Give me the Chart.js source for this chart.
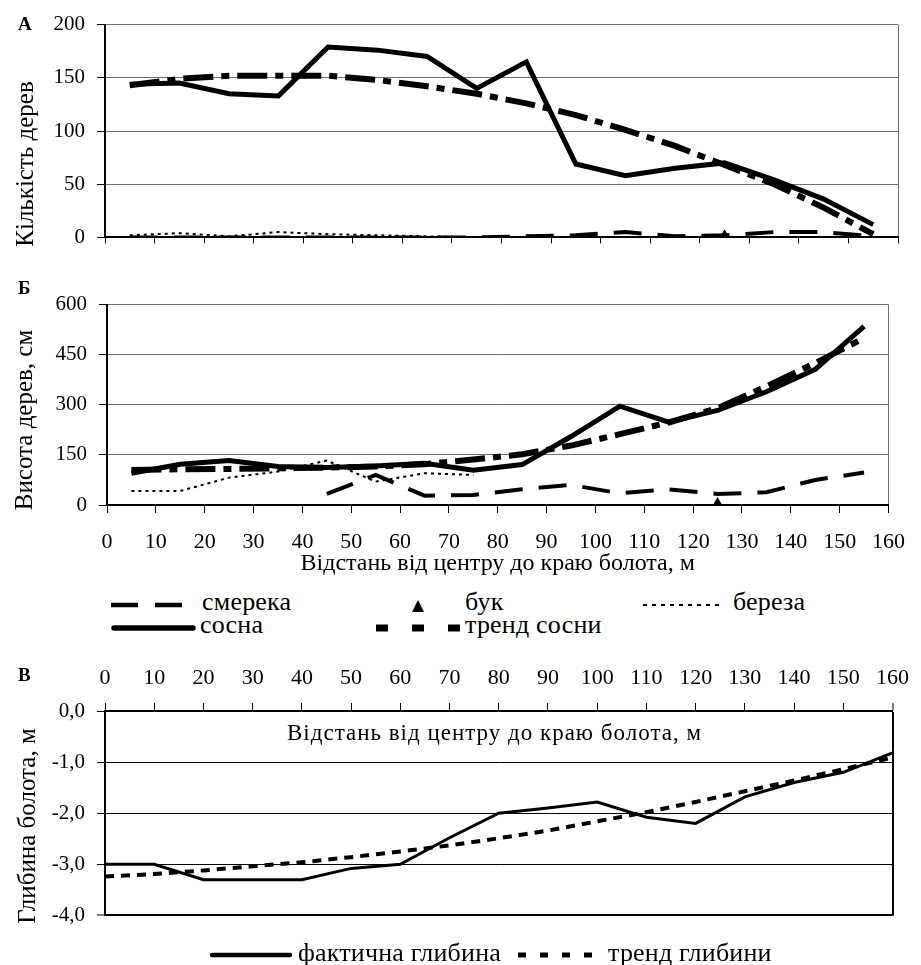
<!DOCTYPE html>
<html><head><meta charset="utf-8">
<script src="https://cdn.jsdelivr.net/npm/chart.js@4.4.1/dist/chart.umd.min.js"></script>
<style>
body{margin:0;background:#fff;width:921px;height:965px;position:relative;overflow:hidden;font-family:"Liberation Serif","Times New Roman",serif;color:#000}
canvas{position:absolute;left:0}
.t{position:absolute;white-space:nowrap;line-height:1}
.lbl{font-weight:bold;font-size:19px}
.ytitle{font-size:25px;transform:translate(-50%,-50%) rotate(-90deg)}
.lg{font-size:26px;letter-spacing:0.2px}
svg{position:absolute;overflow:visible}
</style></head><body>
<canvas id="cA" width="921" height="262" style="top:0"></canvas>
<canvas id="cB" width="921" height="300" style="top:280px"></canvas>
<canvas id="cC" width="921" height="300" style="top:640px"></canvas>

<div class="t lbl" style="left:18px;top:14px">А</div>
<div class="t lbl" style="left:18px;top:278px">Б</div>
<div class="t lbl" style="left:18px;top:665px">В</div>

<div class="t ytitle" style="left:24px;top:164px">Кількість дерев</div>
<div class="t ytitle" style="left:23px;top:420px">Висота дерев, см</div>
<div class="t ytitle" style="left:26px;top:826px">Глибина болота, м</div>

<!-- legend for panels А and Б -->
<svg style="left:111px;top:600px" width="72" height="10"><line x1="0" y1="5" x2="72" y2="5" stroke="#000" stroke-width="4.5" stroke-dasharray="27 17"/></svg>
<div class="t lg" style="left:202px;top:589px">смерека</div>
<svg style="left:412px;top:600px" width="12" height="12"><polygon points="6,0 12,12 0,12" fill="#000"/></svg>
<div class="t lg" style="left:465px;top:589px">бук</div>
<svg style="left:643px;top:600px" width="78" height="10"><line x1="0" y1="5" x2="78" y2="5" stroke="#000" stroke-width="2" stroke-dasharray="4 5"/></svg>
<div class="t lg" style="left:733px;top:589px">береза</div>
<svg style="left:111px;top:623px" width="84" height="10"><line x1="3" y1="5" x2="82" y2="5" stroke="#000" stroke-width="5.5" stroke-linecap="round"/></svg>
<div class="t lg" style="left:200px;top:612px">сосна</div>
<svg style="left:376px;top:623px" width="86" height="10"><line x1="0" y1="5" x2="86" y2="5" stroke="#000" stroke-width="7" stroke-dasharray="12 24"/></svg>
<div class="t lg" style="left:465px;top:612px">тренд сосни</div>

<!-- inner title of panel В -->
<div class="t" style="left:287px;top:721px;font-size:23px;letter-spacing:1px">Відстань від центру до краю болота, м</div>

<!-- legend for panel В -->
<svg style="left:210px;top:950px" width="80" height="10"><line x1="2" y1="5" x2="80" y2="5" stroke="#000" stroke-width="4.5" stroke-linecap="round"/></svg>
<div class="t lg" style="left:298px;top:940px">фактична глибина</div>
<svg style="left:518px;top:950px" width="86" height="10"><line x1="0" y1="5" x2="86" y2="5" stroke="#000" stroke-width="5" stroke-dasharray="8 14"/></svg>
<div class="t lg" style="left:608px;top:940px">тренд глибини</div>

<script>
// ---------- data ----------
const distance = [5, 15, 25, 35, 45, 55, 65, 75, 85, 95, 105, 115, 125, 135, 145, 155];

// Панель А – кількість дерев
const spruceCount    = [0, 0, 0, 0, 0, 0, 0, 0, 1, 2, 5, 1, 2, 5, 5, 1];
const beechCount     = [null, null, null, null, null, null, null, null, null, null, null, null, 1, null, null, null];
const birchCount     = [2, 4, 1, 5, 3, 2, 1, 0, 0, 0, 0, 0, 0, 0, 0, 0];
const pineCount      = [144, 145, 135, 133, 179, 176, 170, 140, 165, 69, 58, 65, 70, 54, 36, 12];
const pineCountTrend = [143, 149, 152, 152, 152, 148, 142, 135, 126, 115, 101, 86, 68, 50, 28, 3];

// Панель Б – висота дерев, см
const spruceHeight    = [null, null, null, null, 33, 90, 28, 30, 47, 60, 35, 47, 33, 38, 75, 97];
const beechHeight     = [null, null, null, null, null, null, null, null, null, null, null, null, 3, null, null, null];
const birchHeight     = [42, 42, 82, 100, 133, 70, 95, 90, null, null, null, null, null, null, null, null];
const pineHeight      = [95, 122, 133, 115, 112, 117, 125, 104, 121, 205, 296, 248, 283, 339, 406, 535];
const pineHeightTrend = [105, 107, 108, 110, 112, 115, 122, 136, 152, 178, 212, 247, 290, 355, 425, 500];

// Панель В – глибина болота, м
const depthDistance = [0, 10, 20, 30, 40, 50, 60, 70, 80, 90, 100, 110, 120, 130, 140, 150, 160];
const depthActual   = [-3.0, -3.0, -3.3, -3.3, -3.3, -3.08, -3.0, -2.48, -2.0, -1.9, -1.78, -2.08, -2.2, -1.68, -1.4, -1.2, -0.82];
const depthTrend    = [-3.24, -3.19, -3.12, -3.04, -2.96, -2.86, -2.75, -2.63, -2.49, -2.34, -2.16, -1.98, -1.78, -1.57, -1.36, -1.14, -0.91];

const xTickLabels = [0, 10, 20, 30, 40, 50, 60, 70, 80, 90, 100, 110, 120, 130, 140, 150, 160];

// ---------- helpers ----------
const pts = (xs, ys) => xs.map((x, i) => ({x: x, y: ys[i]}));
const SERIF = "'Liberation Serif','Times New Roman',serif";
Chart.defaults.font.family = SERIF;
Chart.defaults.color = '#000';
const BLACK = '#000', GRID = '#6e6e6e', NONE = 'rgba(0,0,0,0)';

function lineDs(label, data, width, dash) {
  return {label, data, borderColor: BLACK, backgroundColor: BLACK, borderWidth: width,
          borderDash: dash, pointRadius: 0, fill: false, tension: 0, spanGaps: false};
}
function beechDs(data) {
  return {label: 'бук', data, showLine: false, pointStyle: 'triangle', pointRadius: 7,
          backgroundColor: BLACK, borderColor: BLACK, borderWidth: 0};
}
const baseOpts = {
  responsive: false, animation: false, events: [],
  plugins: {legend: {display: false}, tooltip: {enabled: false}}
};

// ---------- Панель А ----------
new Chart(document.getElementById('cA'), {
  type: 'line',
  data: {datasets: [
    lineDs('смерека', pts(distance, spruceCount), 4, [28, 16]),
    lineDs('береза', pts(distance, birchCount), 2, [3, 4]),
    lineDs('тренд сосни', pts(distance, pineCountTrend), 6, [30, 8, 8, 8]),
    lineDs('сосна', pts(distance, pineCount), 5, []),
    beechDs(pts(distance, beechCount))
  ]},
  options: Object.assign({}, baseOpts, {
    layout: {padding: {top: 24, right: 23, left: 0, bottom: 0}},
    scales: {
      x: {type: 'linear', min: 0, max: 160,
          ticks: {stepSize: 10, display: false},
          grid: {color: c => (c.tick && c.tick.value === 160) ? GRID : NONE, tickColor: BLACK, tickLength: 6, tickWidth: 1},
          border: {color: BLACK, width: 2},
          afterFit: s => { s.height = 10; }},
      y: {min: 0, max: 200,
          ticks: {stepSize: 50, padding: 12, font: {size: 21}},
          grid: {color: GRID, tickColor: BLACK, tickLength: 8},
          border: {color: BLACK, width: 2},
          afterFit: s => { s.width = 105; }}
    }
  })
});

// ---------- Панель Б ----------
new Chart(document.getElementById('cB'), {
  type: 'line',
  data: {datasets: [
    lineDs('смерека', pts(distance, spruceHeight), 4, [28, 16]),
    lineDs('береза', pts(distance, birchHeight), 2, [3, 4]),
    lineDs('тренд сосни', pts(distance, pineHeightTrend), 6, [30, 8, 8, 8]),
    lineDs('сосна', pts(distance, pineHeight), 5, []),
    beechDs(pts(distance, beechHeight))
  ]},
  options: Object.assign({}, baseOpts, {
    layout: {padding: {top: 16, right: 19, left: 0, bottom: 0}},
    scales: {
      x: {type: 'linear', min: 0, max: 160,
          afterBuildTicks: s => { s.ticks = xTickLabels.map(v => ({value: v})); },
          ticks: {padding: 16, font: {size: 22}, maxRotation: 0, autoSkip: false},
          grid: {color: c => (c.tick && c.tick.value === 160) ? GRID : NONE, tickColor: BLACK, tickLength: 8, tickWidth: 1},
          border: {color: BLACK, width: 2},
          title: {display: true, text: 'Відстань від центру до краю болота, м', font: {size: 24}, padding: {top: 0, bottom: 2}},
          afterFit: s => { s.height = 75; }},
      y: {min: 0, max: 600,
          ticks: {stepSize: 150, padding: 12, font: {size: 21}},
          grid: {color: GRID, tickColor: BLACK, tickLength: 8},
          border: {color: BLACK, width: 2},
          afterFit: s => { s.width = 107; }}
    }
  })
});

// ---------- Панель В ----------
new Chart(document.getElementById('cC'), {
  type: 'line',
  data: {datasets: [
    lineDs('тренд глибини', pts(depthDistance, depthTrend), 4, [9, 7]),
    lineDs('фактична глибина', pts(depthDistance, depthActual), 3, [])
  ]},
  options: Object.assign({}, baseOpts, {
    layout: {padding: {top: 0, right: 19, left: 0, bottom: 11}},
    scales: {
      x: {type: 'linear', position: 'top', min: 0, max: 160,
          afterBuildTicks: s => { s.ticks = xTickLabels.map(v => ({value: v})); },
          ticks: {padding: 12, font: {size: 22}, maxRotation: 0, autoSkip: false},
          grid: {color: c => (c.tick && c.tick.value === 160) ? BLACK : NONE,
                 lineWidth: c => (c.tick && c.tick.value === 160) ? 2 : 1,
                 tickColor: BLACK, tickLength: 8, tickWidth: 1},
          border: {color: BLACK, width: 2},
          afterFit: s => { s.height = 71; }},
      y: {min: -4, max: 0,
          ticks: {stepSize: 1, padding: 12, font: {size: 21},
                  callback: v => v.toFixed(1).replace('.', ',')},
          grid: {color: BLACK, lineWidth: c => (c.tick && c.tick.value === -4) ? 2 : 1,
                 tickColor: BLACK, tickLength: 8, tickWidth: 1},
          border: {color: BLACK, width: 2},
          afterFit: s => { s.width = 105; }}
    }
  })
});
</script>
</body></html>
